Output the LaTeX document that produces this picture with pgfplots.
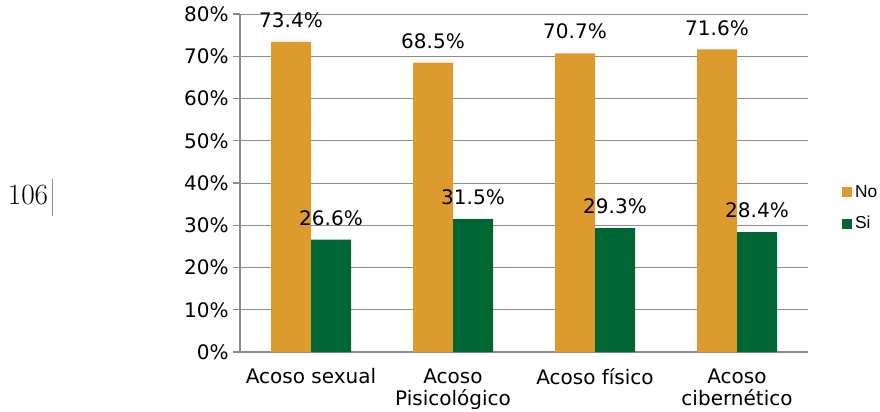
\documentclass[border=0pt]{standalone}
\usepackage{fontspec}
\usepackage{pgfplots}
\pgfplotsset{compat=1.18}
\newfontfamily\dejavu{DejaVu Sans}
\newfontfamily\arialx{Liberation Sans}
\definecolor{barNo}{RGB}{222,155,45}
\definecolor{barSi}{RGB}{0,102,51}
\definecolor{axgray}{RGB}{140,140,140}
\begin{document}
\begin{tikzpicture}
\path[use as bounding box] (0,0) rectangle (660pt,308.25pt);
% page number artefact at the left
\node[font=\fontsize{22}{24}\selectfont] at (21pt,162pt) {106};
\draw[axgray,line width=0.5pt] (39pt,146pt) -- (39pt,174pt);
\begin{axis}[
    at={(180pt,44.25pt)}, anchor=south west,
    scale only axis,
    width=426pt, height=253.5pt,
    ybar=0pt, bar width=30pt,
    xmin=-0.5, xmax=3.5, ymin=0, ymax=80,
    clip=false,
    axis x line*=bottom, axis y line*=left,
    axis line style={axgray,line width=1pt,-},
    ytick={0,10,...,80},
    yticklabel={\pgfmathprintnumber{\tick}\%},
    ymajorgrids, grid style={axgray,line width=0.75pt},
    tick align=outside,
    major tick length=5pt, minor tick length=5pt,
    ytick style={axgray,line width=1pt},
    xtick={0,1,2,3},
    xtick style={draw=none},
    minor xtick={-0.5,0.5,1.5,2.5,3.5},
    minor x tick style={axgray,line width=1pt},
    xticklabels={Acoso sexual,{Acoso\\Pisicológico},Acoso físico,{Acoso\\cibernético}},
    x tick label style={align=center,yshift=-4pt,font=\dejavu\fontsize{15}{17}\selectfont},
    y tick label style={font=\dejavu\fontsize{15}{18}\selectfont},
    /pgf/number format/assume math mode=true,
    nodes near coords={\pgfmathprintnumber[fixed,fixed zerofill,precision=1]{\pgfplotspointmeta}\%},
    every node near coord/.append style={font=\dejavu\fontsize{15}{18}\selectfont,black,yshift=7pt},
    legend style={draw=none,fill=none,at={(1.06,0.426)},anchor=west,
        font=\arialx\fontsize{13}{15}\selectfont,row sep=9pt,inner sep=0pt},
    legend cell align=left,
    legend image code/.code={\fill[#1] (0pt,-3.75pt) rectangle (7.5pt,3.75pt);},
]
\addplot[fill=barNo,draw=none] coordinates {(0,73.4) (1,68.5) (2,70.7) (3,71.6)};
\addplot[fill=barSi,draw=none] coordinates {(0,26.6) (1,31.5) (2,29.3) (3,28.4)};
\legend{No,Si}
\end{axis}
\end{tikzpicture}
\end{document}
